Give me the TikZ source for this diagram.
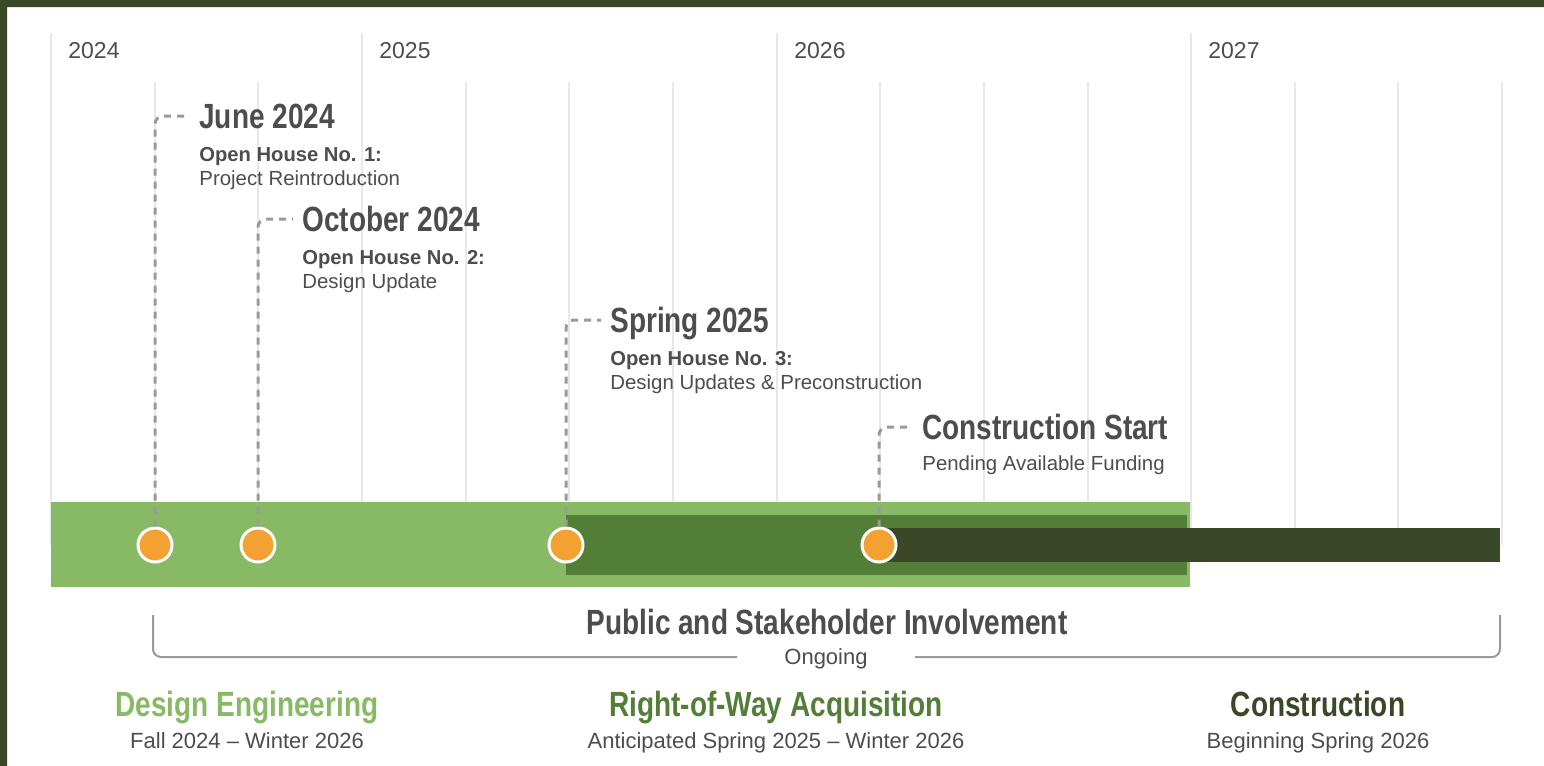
\documentclass[tikz,border=0pt]{standalone}
\usepackage{fontspec}
\setmainfont{Liberation Sans}
\newfontfamily\narrowfont[FakeStretch=0.8]{Liberation Sans}
\usepackage{xcolor}
\usetikzlibrary{positioning}

\definecolor{framegreen}{HTML}{3A4828}
\definecolor{lightgreen}{HTML}{88BA66}
\definecolor{midgreen}{HTML}{527E37}
\definecolor{darkgreen}{HTML}{3A4828}
\definecolor{dotorange}{HTML}{F4A134}
\definecolor{txtgray}{HTML}{4D4D4D}
\definecolor{gridgray}{HTML}{E8E8E8}
\definecolor{leadgray}{HTML}{9A9A9A}

\begin{document}
\begin{tikzpicture}[
    x=0.5pt, y=-0.5pt,
    yeargrid/.style={draw=gridgray, line width=1pt},
    year/.style={anchor=base west, inner sep=0, font=\fontsize{11.5}{14}\selectfont, text=txtgray},
    head/.style={inner sep=0, font=\narrowfont\bfseries\fontsize{17.5}{21}\selectfont, text=txtgray, text height=12.5pt, text depth=0pt},
    subbold/.style={anchor=base west, inner sep=0, font=\bfseries\fontsize{10.1}{12}\selectfont, text=txtgray},
    subtext/.style={anchor=base west, inner sep=0, font=\fontsize{10.2}{12}\selectfont, text=txtgray},
    phase/.style={anchor=base, inner sep=0, font=\fontsize{11}{13}\selectfont, text=txtgray},
    milestone/.style={circle, fill=dotorange, draw=white, line width=1.5pt, minimum size=17pt, inner sep=0},
    leader/.style={draw=leadgray, line width=1.5pt, dash pattern=on 3.5pt off 3pt, rounded corners=4pt, shorten >=4.5pt},
    bracket/.style={draw=leadgray, line width=1pt, rounded corners=4pt}
]
    \useasboundingbox (0,0) rectangle (1544,766);
    \fill[white] (0,0) rectangle (1544,766);
    \fill[framegreen] (0,0) rectangle (1544,7) (0,0) rectangle (7,766);

    % Grid: years and quarters
    \draw[yeargrid] (51,33) -- (51,545) (362,33) -- (362,545) (777,33) -- (777,545) (1191,33) -- (1191,545);
    \draw[yeargrid] (155,82) -- (155,545) (258,82) -- (258,545) (466,82) -- (466,545) (569,82) -- (569,545)
        (673,82) -- (673,545) (880,82) -- (880,545) (984,82) -- (984,545) (1088,82) -- (1088,545)
        (1295,82) -- (1295,545) (1398,82) -- (1398,545) (1502,82) -- (1502,545);
    \node[year] (y2024) at (68,58) {2024};
    \node[year] (y2025) at (379,58) {2025};
    \node[year] (y2026) at (794,58) {2026};
    \node[year] (y2027) at (1208,58) {2027};

    % Phase bars
    \fill[lightgreen] (51,502) rectangle (1190,587);
    \fill[midgreen] (566,515) rectangle (1187,575);
    \fill[darkgreen] (880,528) rectangle (1500,562);

    % Milestones
    \node[milestone] (ms1) at (155,545) {};
    \node[milestone] (ms2) at (258,545) {};
    \node[milestone] (ms3) at (566,545) {};
    \node[milestone] (ms4) at (879,545) {};

    \node[head, anchor=west] (june) at (199,116) {June 2024};
    \node[subbold] (junebold) at (199,161) {Open House No. 1:};
    \node[subtext] (junetxt) at (199,185) {Project Reintroduction};

    \node[head, anchor=west] (october) at (302,219) {October 2024};
    \node[subbold] (octbold) at (302,264) {Open House No. 2:};
    \node[subtext] (octtxt) at (302,288) {Design Update};

    \node[head, anchor=west] (spring) at (610,320) {Spring 2025};
    \node[subbold] (springbold) at (610,365) {Open House No. 3:};
    \node[subtext] (springtxt) at (610,389) {Design Updates \& Preconstruction};

    \node[head, anchor=west] (cstart) at (922,427) {Construction Start};
    \node[subtext] (cstarttxt) at (922,470) {Pending Available Funding};

    \draw[leader] (ms1.north) |- (june.west);
    \draw[leader] (ms2.north) |- (october.west);
    \draw[leader] (ms3.north) |- (spring.west);
    \draw[leader] (ms4.north) |- (cstart.west);

    % Public involvement bracket
    \node[head] (public) at (827,622) {Public and Stakeholder Involvement};
    \node[inner sep=0, minimum width=88.5pt, font=\fontsize{11}{13}\selectfont, text=txtgray, text height=7.9pt, text depth=0pt] (ongoing) at (826,657) {Ongoing};
    \coordinate (brL) at (153,615);
    \coordinate (brR) at (1500,615);
    \draw[bracket] (ongoing.west) -| (brL);
    \draw[bracket] (ongoing.east) -| (brR);

    % Phases
    \node[head, text=lightgreen] (design) at (247,704) {Design Engineering};
    \node[phase] (designtxt) at (247,748) {Fall 2024 -- Winter 2026};
    \node[head, text=midgreen] (row) at (776,704) {Right-of-Way Acquisition};
    \node[phase] (rowtxt) at (776,748) {Anticipated Spring 2025 -- Winter 2026};
    \node[head, text=darkgreen] (constr) at (1318,704) {Construction};
    \node[phase] (constrtxt) at (1318,748) {Beginning Spring 2026};
\end{tikzpicture}
\end{document}
